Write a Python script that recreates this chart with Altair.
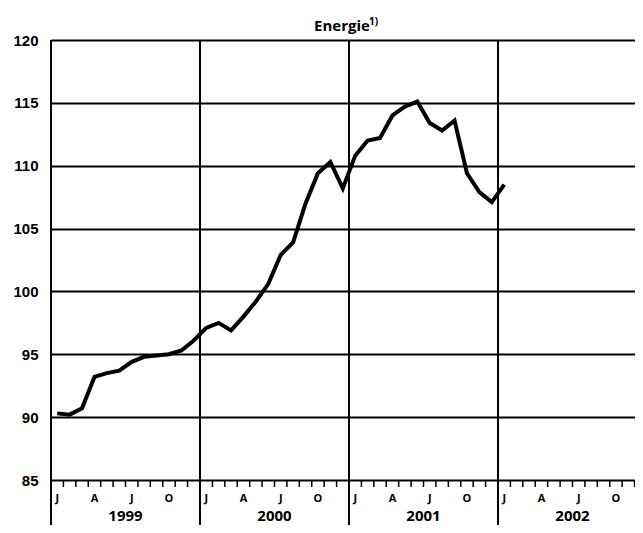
import altair as alt
import pandas as pd

# ---- data ----
values = [90.3, 90.2, 90.7, 93.2, 93.5, 93.7, 94.4, 94.8, 94.9, 95.0, 95.3, 96.1,
          97.1, 97.5, 96.9, 98.0, 99.2, 100.6, 102.9, 103.9, 107.0, 109.4, 110.3, 108.2,
          110.8, 112.0, 112.2, 114.0, 114.7, 115.1, 113.4, 112.8, 113.6, 109.4, 107.9, 107.1,
          108.5]
years = ["1999", "2000", "2001", "2002"]
month_letters = ["J", "A", "J", "O"]
month_letter_pos = [0, 3, 6, 9]
y_ticks = [85, 90, 95, 100, 105, 110, 115, 120]
title_main = "Energie"
title_sup = "1)"

W, H = 584, 440
n_months = 12 * len(years)
px_per_month = 149 / 12
x_max = W / px_per_month  # visible part of the last year (plot is cut at the right edge)

line_df = pd.DataFrame({"t": [i + 0.5 for i in range(len(values))], "v": values})
tick_df = pd.DataFrame({"t": list(range(n_months))})
year_line_df = pd.DataFrame({"t": [12 * i for i in range(len(years))]})
year_label_df = pd.DataFrame({"t": [12 * i + 6 for i in range(len(years))], "label": years})
month_label_df = pd.DataFrame({
    "t": [12 * y + m + 0.5 for y in range(len(years)) for m in month_letter_pos],
    "label": [l for _ in years for l in month_letters],
})
title_df = pd.DataFrame({"label": [title_main]})
sup_df = pd.DataFrame({"label": [title_sup]})

xscale = alt.Scale(domain=[0, x_max], nice=False, zero=False)
yscale = alt.Scale(domain=[85, 120], nice=False, zero=False)

line = alt.Chart(line_df).mark_line(color="black", strokeWidth=4, strokeJoin="miter").encode(
    x=alt.X("t:Q", scale=xscale, axis=None),
    y=alt.Y("v:Q", scale=yscale, axis=alt.Axis(
        values=y_ticks, grid=True, gridColor="black", gridWidth=2, gridOpacity=1,
        domain=False, ticks=False, tickSize=0, labelPadding=13,
        labelFont="Liberation Sans", labelFontSize=15, labelFontWeight="bold",
        labelColor="black", title=None)),
)

month_ticks = alt.Chart(tick_df).mark_rule(color="black", strokeWidth=1.5).encode(
    x=alt.X("t:Q", scale=xscale, axis=None),
    y=alt.value(H),
    y2=alt.value(H + 7),
)

year_lines = alt.Chart(year_line_df).mark_rule(color="black", strokeWidth=2).encode(
    x=alt.X("t:Q", scale=xscale, axis=None),
    y=alt.value(0),
    y2=alt.value(H + 45),
)

month_labels = alt.Chart(month_label_df).mark_text(
    font="Open Sans", fontSize=11, fontWeight="bold", color="black", baseline="middle"
).encode(
    x=alt.X("t:Q", scale=xscale, axis=None),
    y=alt.value(H + 19),
    text="label:N",
)

year_labels = alt.Chart(year_label_df).mark_text(
    font="Open Sans", fontSize=15, fontWeight="bold", color="black", baseline="middle"
).encode(
    x=alt.X("t:Q", scale=xscale, axis=None),
    y=alt.value(H + 36),
    text="label:N",
)

title = alt.Chart(title_df).mark_text(
    font="Open Sans", fontSize=15, fontWeight="bold", color="black",
    baseline="alphabetic", align="center"
).encode(x=alt.value(291), y=alt.value(-9), text="label:N")

sup = alt.Chart(sup_df).mark_text(
    font="Open Sans", fontSize=10, fontWeight="bold", color="black",
    baseline="alphabetic", align="left"
).encode(x=alt.value(318), y=alt.value(-15), text="label:N")

chart = alt.layer(line, month_ticks, year_lines, month_labels, year_labels, title, sup).properties(
    width=W, height=H,
    padding={"left": 43, "top": 32, "right": 0, "bottom": 45},
    autosize=alt.AutoSizeParams(type="none"),
).configure_view(stroke=None).configure(background="white")

chart.save("out.html", embed_options={"renderer": "svg", "actions": False})
